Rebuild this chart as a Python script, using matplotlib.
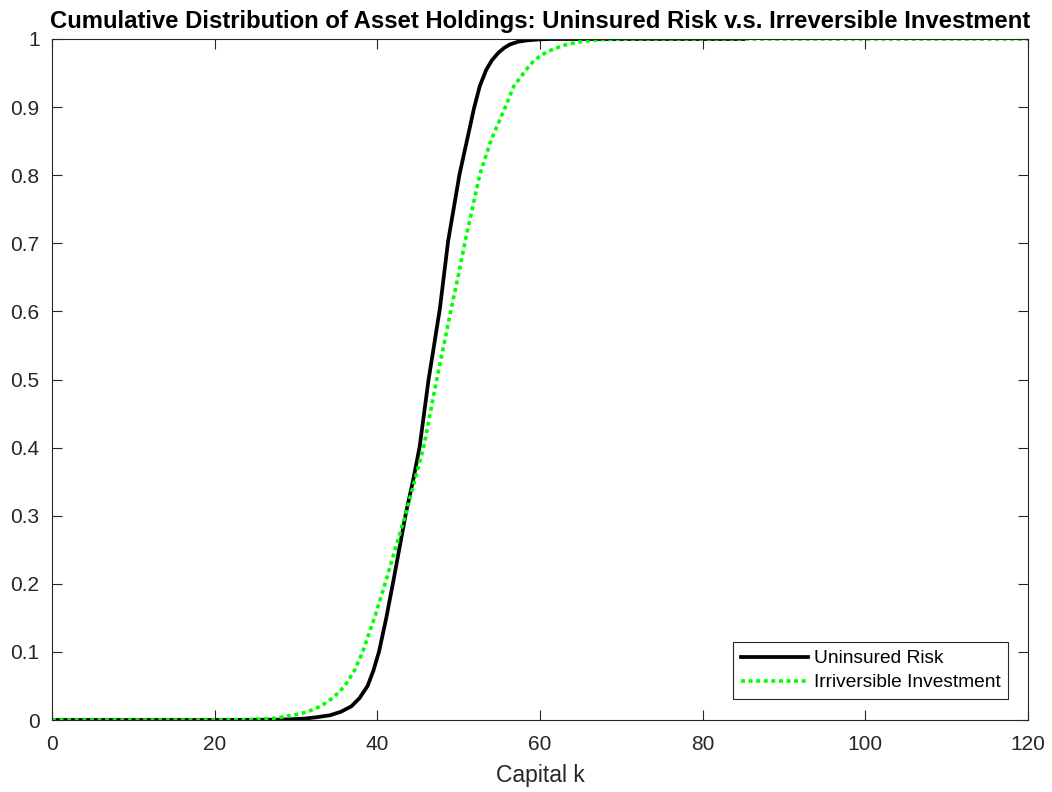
import matplotlib
matplotlib.use("Agg")
import matplotlib.pyplot as plt
from matplotlib.ticker import FuncFormatter

plt.rcParams['font.family'] = ['Liberation Sans', 'DejaVu Sans']

# capital grid points and cumulative shares
k_uninsured = [0, 20, 28, 31, 32.5, 34.2, 35.5, 36.8, 37.8, 38.8, 39.5, 40.2, 41.1,
               42.0, 43.5, 44.4, 45.2, 46.3, 47.0, 47.7, 48.7, 49.4, 50.1, 51.0,
               51.9, 52.6, 53.4, 54.1, 54.9, 55.6, 56.3, 57.3, 58.4, 60.0, 61.2, 85]
cdf_uninsured = [0, 0, 0.0005, 0.002, 0.004, 0.007, 0.012, 0.02, 0.032, 0.05, 0.072,
                 0.1, 0.15, 0.206, 0.303, 0.352, 0.401, 0.5, 0.552, 0.605, 0.703,
                 0.752, 0.801, 0.85, 0.899, 0.931, 0.955, 0.969, 0.98, 0.987, 0.992,
                 0.996, 0.998, 0.9995, 1.0, 1.0]

k_irrev = [0, 20, 24, 27, 29.7, 31.4, 33.0, 34.6, 36.0, 37.2, 38.2, 39.7, 41.1,
           42.3, 43.5, 44.6, 45.7, 46.5, 47.3, 48.2, 49.1, 50.0, 50.8, 51.7, 52.6,
           54.0, 55.7, 56.8, 58.3, 59.1, 60.0, 61.0, 62.1, 63.0, 64.1, 65.5, 67.4,
           69.5, 72, 120]
cdf_irrev = [0, 0, 0.0005, 0.002, 0.007, 0.012, 0.02, 0.033, 0.05, 0.073, 0.1,
             0.152, 0.206, 0.255, 0.303, 0.352, 0.401, 0.45, 0.5, 0.552, 0.605,
             0.655, 0.703, 0.752, 0.801, 0.852, 0.899, 0.931, 0.955, 0.966, 0.975,
             0.982, 0.987, 0.991, 0.994, 0.997, 0.999, 0.9995, 1.0, 1.0]

xticks = [0, 20, 40, 60, 80, 100, 120]
yticks = [0, 0.1, 0.2, 0.3, 0.4, 0.5, 0.6, 0.7, 0.8, 0.9, 1.0]

axcol = (0.15, 0.15, 0.15)

fig = plt.figure(figsize=(10.52, 7.92), dpi=100)
ax = fig.add_axes([52/1052, 72/792, 976/1052, 681/792])

ax.plot(k_uninsured, cdf_uninsured, color='black', lw=2.7, label='Uninsured Risk')
ax.plot(k_irrev, cdf_irrev, color=(0, 1, 0), lw=2.6, linestyle=(0, (1.1, 1.0)),
        label='Irriversible Investment')

ax.set_xlim(0, 120)
ax.set_ylim(0, 1)
ax.set_xticks(xticks)
ax.set_yticks(yticks)
ax.yaxis.set_major_formatter(FuncFormatter(lambda v, p: f"{v:g}"))
ax.tick_params(direction='in', length=7, width=0.8, colors=axcol, labelsize=15,
               top=True, right=True)
ax.tick_params(axis='x', pad=11)
ax.tick_params(axis='y', pad=9)
for s in ax.spines.values():
    s.set_color(axcol)
    s.set_linewidth(0.8)

ax.set_xlabel('Capital k', fontsize=16.5, color=axcol, labelpad=7)
ax.set_title('Cumulative Distribution of Asset Holdings: Uninsured Risk v.s. Irreversible Investment',
             fontsize=17.2, fontweight='bold', pad=8)

leg = ax.legend(loc='lower right', bbox_to_anchor=(0.9795, 0.0308), borderaxespad=0,
                fontsize=13.8, fancybox=False, framealpha=1, edgecolor=axcol,
                handlelength=3.5, handletextpad=0.3, labelspacing=0.35, borderpad=0.4)
leg.get_frame().set_linewidth(0.8)

fig.savefig('out.png', dpi=100)
